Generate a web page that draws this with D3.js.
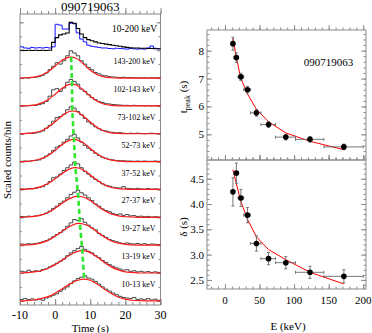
<!DOCTYPE html>
<html>
<head>
<meta charset="utf-8">
<script src="https://cdn.jsdelivr.net/npm/d3@7"></script>
<style>
body { margin: 0; background: #fff; }
text { font-family: "Liberation Serif", "Times New Roman", serif; fill: #000; }
</style>
</head>
<body>
<svg></svg>
<script>
const svg = d3.select('svg')
    .attr('width', 372)
    .attr('height', 333);

// ---- data ----
const burst = '090719063';
// energy bands (keV), low to high
const bandLo = [10, 13, 19, 27, 37, 52, 73, 102, 143];
const bandHi = [13, 19, 27, 37, 52, 73, 102, 143, 200];
const bandE = [11.5, 16.5, 23, 32.5, 45.5, 63, 88, 123, 172];
// peak time and width per band
const tPeak = [8.25, 7.75, 7.06, 6.6, 5.77, 5.35, 4.9, 4.82, 4.55];
const tPeakErr = [0.23, 0.17, 0.13, 0.12, 0.12, 0.1, 0.1, 0.1, 0.1];
const tPeakFit = [8.45, 7.75, 7.0, 6.45, 5.9, 5.45, 5.05, 4.75, 4.45];
const delta = [4.24, 4.61, 4.12, 3.78, 3.22, 2.92, 2.84, 2.65, 2.57];
const deltaErr = [0.28, 0.2, 0.17, 0.15, 0.15, 0.12, 0.12, 0.12, 0.13];
const deltaFit = [4.68, 4.4, 4.05, 3.7, 3.35, 3.1, 2.9, 2.65, 2.42];

// light curves, 1 s bins starting at -10 s
const binStart = -10, binWidth = 1;
const totalBlack = [0, -0.01, 0, -0.01, 0, -0.01, 0, -0.01, 0, 0.28,
    0.45, 0.55, 0.58, 0.62, 1.0, 0.97, 0.78, 0.58, 0.45, 0.38,
    0.34, 0.3, 0.26, 0.24, 0.22, 0.2, 0.18, 0.16, 0.14, 0.12,
    0.1, 0.09, 0.08, 0.08, 0.07, 0.07, 0.06, 0.06, 0.05, 0.05];
const totalBlue = [0.12, 0.08, 0.07, 0.1, 0.08, 0.09, 0.08, 0.1, 0.08, 0.12,
    0.93, 0.9, 0.76, 0.76, 0.97, 0.95, 0.62, 0.4, 0.3, 0.18,
    0.14, 0.12, 0.1, 0.08, 0.08, 0.06, 0.05, 0.07, 0.06, 0.05,
    0.04, 0.06, 0.05, 0.04, 0.05, 0.04, 0.08, 0.15, 0.07, 0.05];
// band light curves, top panel (143-200 keV) to bottom panel (10-13 keV)
const bandCounts = [
    [0, 0.01, 0, 0.02, 0.03, 0.05, 0.1, 0.18, 0.3, 0.42,
     0.55, 0.5, 0.62, 0.8, 0.98, 0.9, 0.8, 0.62, 0.5, 0.38,
     0.3, 0.2, 0.15, 0.1, 0.08, 0.05, 0.04, 0.03, 0.02, 0.03,
     0.01, 0.02, 0.01, 0.01, 0, 0.01, 0, 0.01, 0, 0.01],
    [0.01, 0, 0.01, 0.02, 0.02, 0.05, 0.08, 0.16, 0.35, 0.58,
     0.62, 0.52, 0.64, 0.85, 0.95, 0.88, 0.78, 0.6, 0.52, 0.4,
     0.3, 0.22, 0.16, 0.12, 0.08, 0.07, 0.05, 0.04, 0.03, 0.02,
     0.02, 0.01, 0.02, 0.01, 0.01, 0, 0.01, 0, 0.01, 0],
    [0, 0.01, 0.02, 0.01, 0.03, 0.06, 0.1, 0.2, 0.3, 0.45,
     0.58, 0.62, 0.7, 0.86, 0.97, 0.92, 0.8, 0.68, 0.55, 0.42,
     0.35, 0.25, 0.18, 0.12, 0.1, 0.06, 0.05, 0.03, 0.04, 0.02,
     0.01, 0.02, 0.01, 0.02, 0.01, 0, 0.01, 0.02, 0.01, 0.01],
    [0.01, 0.02, 0.01, 0.03, 0.04, 0.06, 0.12, 0.2, 0.28, 0.4,
     0.52, 0.58, 0.7, 0.8, 0.92, 0.98, 0.85, 0.7, 0.58, 0.48,
     0.4, 0.3, 0.22, 0.16, 0.12, 0.08, 0.06, 0.04, 0.03, 0.03,
     0.02, 0.02, 0.01, 0.02, 0.01, 0.02, 0.01, 0.01, 0.02, 0.01],
    [0.02, 0.01, 0.03, 0.02, 0.04, 0.07, 0.1, 0.18, 0.28, 0.42,
     0.45, 0.55, 0.68, 0.78, 0.88, 0.98, 0.92, 0.78, 0.65, 0.55,
     0.45, 0.36, 0.28, 0.2, 0.15, 0.12, 0.08, 0.06, 0.05, 0.1,
     0.04, 0.03, 0.02, 0.04, 0.02, 0.01, 0.03, 0.01, 0.02, 0.01],
    [0.03, 0.02, 0.04, 0.03, 0.05, 0.07, 0.1, 0.15, 0.22, 0.32,
     0.4, 0.5, 0.58, 0.7, 0.82, 0.9, 0.97, 0.88, 0.8, 0.7,
     0.6, 0.48, 0.4, 0.3, 0.24, 0.2, 0.14, 0.1, 0.12, 0.07,
     0.1, 0.05, 0.06, 0.03, 0.04, 0.02, 0.03, 0.01, 0.02, 0.01],
    [0.04, 0.03, 0.05, 0.04, 0.06, 0.08, 0.12, 0.16, 0.22, 0.3,
     0.38, 0.45, 0.55, 0.68, 0.8, 0.92, 0.88, 0.95, 0.82, 0.72,
     0.62, 0.55, 0.42, 0.35, 0.28, 0.2, 0.16, 0.12, 0.08, 0.06,
     0.08, 0.05, 0.04, 0.06, 0.03, 0.05, 0.02, 0.04, 0.03, 0.02],
    [0.06, 0.04, 0.1, 0.05, 0.08, 0.06, 0.12, 0.15, 0.22, 0.28,
     0.35, 0.42, 0.5, 0.62, 0.72, 0.8, 0.88, 0.95, 0.85, 0.78,
     0.72, 0.62, 0.55, 0.45, 0.38, 0.3, 0.24, 0.18, 0.14, 0.1,
     0.12, 0.06, 0.08, 0.04, 0.06, 0.03, 0.05, 0.02, 0.04, 0.02],
    [0.05, 0.08, 0.04, 0.07, 0.03, 0.06, 0.02, 0.1, 0.14, 0.2,
     0.25, 0.34, 0.42, 0.5, 0.62, 0.72, 0.8, 0.85, 0.9, 0.82,
     0.78, 0.7, 0.6, 0.5, 0.42, 0.35, 0.28, 0.22, 0.16, 0.12,
     0.1, 0.08, 0.12, 0.05, 0.07, 0.04, 0.08, 0.03, 0.06, 0.02]
];
// fitted pulse per band, sampled every 2 s from -10 s to 30 s (same order)
const modelT = d3.range(-10, 31, 2);
const bandModel = [
    [0, 0.01, 0.03, 0.1, 0.23, 0.43, 0.64, 0.75, 0.71, 0.51, 0.28, 0.12, 0.04, 0.01, 0, 0, 0, 0, 0, 0, 0],
    [0, 0.01, 0.03, 0.1, 0.22, 0.42, 0.63, 0.77, 0.75, 0.57, 0.35, 0.17, 0.06, 0.02, 0, 0, 0, 0, 0, 0, 0],
    [0, 0.01, 0.04, 0.1, 0.23, 0.43, 0.65, 0.8, 0.8, 0.64, 0.42, 0.22, 0.09, 0.03, 0.01, 0, 0, 0, 0, 0, 0],
    [0, 0.01, 0.04, 0.1, 0.22, 0.4, 0.61, 0.76, 0.79, 0.68, 0.47, 0.27, 0.13, 0.05, 0.02, 0, 0, 0, 0, 0, 0],
    [0, 0.01, 0.04, 0.1, 0.21, 0.38, 0.57, 0.73, 0.78, 0.7, 0.52, 0.33, 0.17, 0.07, 0.03, 0.01, 0, 0, 0, 0, 0],
    [0, 0.01, 0.03, 0.08, 0.17, 0.32, 0.5, 0.66, 0.75, 0.73, 0.6, 0.41, 0.24, 0.12, 0.05, 0.02, 0.01, 0, 0, 0, 0],
    [0, 0.01, 0.03, 0.08, 0.17, 0.32, 0.49, 0.66, 0.77, 0.76, 0.65, 0.47, 0.29, 0.15, 0.07, 0.03, 0.01, 0, 0, 0, 0],
    [0, 0.01, 0.04, 0.08, 0.17, 0.3, 0.46, 0.63, 0.76, 0.8, 0.73, 0.57, 0.38, 0.22, 0.11, 0.04, 0.02, 0, 0, 0, 0],
    [0, 0.01, 0.03, 0.08, 0.15, 0.27, 0.43, 0.59, 0.72, 0.78, 0.74, 0.6, 0.42, 0.26, 0.13, 0.06, 0.02, 0.01, 0, 0, 0]
];

const frameColor = '#8a8a8a';

// draws inward ticks without labels
function ticks(axis, scale, values, size, tx, ty) {
    svg.append('g')
        .attr('transform', `translate(${tx},${ty})`)
        .call(axis(scale).tickValues(values).tickSize(-size).tickFormat(''))
        .call(g => g.select('.domain').remove())
        .call(g => g.selectAll('line').attr('stroke', frameColor));
}

// ---------- left: stacked light curves ----------
const x = d3.scaleLinear([-10, 30], [20, 160.5]);
const y = d3.scaleLinear([-0.15, 10.3], [305, 14]);
const nBands = bandCounts.length;

svg.append('rect')
    .attr('x', x(-10)).attr('y', y(10.3))
    .attr('width', x(30) - x(-10)).attr('height', y(-0.15) - y(10.3))
    .attr('fill', 'none').attr('stroke', frameColor);

[[d3.range(-10, 31, 2), 3], [d3.range(-10, 31, 10), 6]].forEach(([vals, s]) => {
    ticks(d3.axisBottom, x, vals, s, 0, y(-0.15));
    ticks(d3.axisTop, x, vals, -s, 0, y(10.3));
});
[[d3.range(0, 10.5, 0.5), 2], [d3.range(0, 11, 1), 4]].forEach(([vals, s]) => {
    ticks(d3.axisLeft, y, vals, s, x(-10), 0);
    ticks(d3.axisRight, y, vals, s, x(30), 0);
});

const stepLine = (offset) => d3.line()
    .x(d => x(d[0]))
    .y(d => y(d[1] + offset))
    .curve(d3.curveStepAfter);

const binned = (vals) => {
    const pts = vals.map((v, i) => [binStart + i * binWidth, v]);
    pts.push([binStart + vals.length * binWidth, vals[vals.length - 1]]);
    return pts;
};

// top panel: total 10-200 keV
const topOffset = nBands;
svg.append('path').datum(binned(totalBlue))
    .attr('d', stepLine(topOffset))
    .attr('fill', 'none').attr('stroke', '#1010ff').attr('stroke-width', 1);
svg.append('path').datum(binned(totalBlack))
    .attr('d', stepLine(topOffset))
    .attr('fill', 'none').attr('stroke', '#000').attr('stroke-width', 1.1);
svg.append('text')
    .attr('x', 157).attr('y', y(topOffset + 0.66))
    .attr('text-anchor', 'end').attr('font-size', 9.5)
    .text(`${bandLo[0]}-${bandHi[bandHi.length - 1]} keV`);

const modelLine = (offset) => d3.line()
    .x((d, i) => x(modelT[i]))
    .y(d => y(d + offset))
    .curve(d3.curveCatmullRom.alpha(0.5));

const peakPts = [];
bandCounts.forEach((counts, p) => {
    const offset = nBands - 1 - p;
    const b = nBands - 1 - p; // index into ascending band arrays
    svg.append('path').datum(binned(counts))
        .attr('d', stepLine(offset))
        .attr('fill', 'none').attr('stroke', '#333').attr('stroke-width', 0.9);
    svg.append('path').datum(bandModel[p])
        .attr('d', modelLine(offset))
        .attr('fill', 'none').attr('stroke', '#ff1a1a').attr('stroke-width', 1.2);
    svg.append('text')
        .attr('x', 155.5).attr('y', y(offset + 0.5))
        .attr('text-anchor', 'end').attr('font-size', 8)
        .text(`${bandLo[b]}-${bandHi[b]} keV`);
    peakPts.push([tPeak[b], offset + d3.max(bandModel[p])]);
});

svg.append('path').datum(peakPts)
    .attr('d', d3.line().x(d => x(d[0])).y(d => y(d[1])))
    .attr('fill', 'none').attr('stroke', '#2ee82e')
    .attr('stroke-width', 2.6).attr('stroke-dasharray', '5,3');

svg.append('g').selectAll('text').data(d3.range(-10, 31, 10)).join('text')
    .attr('x', d => x(d)).attr('y', 319)
    .attr('text-anchor', 'middle').attr('font-size', 12)
    .text(d => String(d));
svg.append('text').attr('x', x(10)).attr('y', 332)
    .attr('text-anchor', 'middle').attr('font-size', 11).text('Time (s)');
svg.append('text').attr('transform', 'translate(10.5,160) rotate(-90)')
    .attr('text-anchor', 'middle').attr('font-size', 11).text('Scaled counts/bin');
svg.append('text').attr('x', x(10)).attr('y', 11)
    .attr('text-anchor', 'middle').attr('font-size', 13).text(burst);

// ---------- right: t_peak and delta vs energy ----------
const xe = d3.scaleLinear([-26, 204], [207, 366]);
const yt = d3.scaleLinear([4.08, 8.74], [160, 30]);
const yd = d3.scaleLinear([2.32, 4.87], [289, 160]);

function panel(ys, vals, errs, fit, minorStep, majorStep, labels) {
    const [r0, r1] = ys.range();
    const [d0, d1] = ys.domain();
    svg.append('rect')
        .attr('x', 207).attr('y', r1).attr('width', 366 - 207).attr('height', r0 - r1)
        .attr('fill', 'none').attr('stroke', frameColor);
    [[d3.range(-20, 205, 10), 2.5], [d3.range(0, 205, 50), 5]].forEach(([v, s]) => {
        ticks(d3.axisBottom, xe, v, s, 0, r0);
        ticks(d3.axisTop, xe, v, -s, 0, r1);
    });
    const minor = d3.range(Math.ceil(d0 / minorStep) * minorStep, d1, minorStep);
    const major = labels;
    [[minor, 2.5], [major, 5]].forEach(([v, s]) => {
        ticks(d3.axisLeft, ys, v, s, 207, 0);
        ticks(d3.axisRight, ys, v, s, 366, 0);
    });
    svg.append('g').selectAll('text').data(labels).join('text')
        .attr('x', 204).attr('y', d => ys(d)).attr('dy', '0.36em')
        .attr('text-anchor', 'end').attr('font-size', 11)
        .text(d => majorStep < 1 ? d.toFixed(1) : String(d));

    svg.append('path').datum(fit)
        .attr('d', d3.line().x((d, i) => xe(bandE[i])).y(d => ys(d)))
        .attr('fill', 'none').attr('stroke', '#ff0000').attr('stroke-width', 1);

    const g = svg.append('g').attr('stroke', '#6a6a6a').attr('stroke-width', 0.9);
    vals.forEach((v, i) => {
        const cx = xe(bandE[i]), cy = ys(v);
        const xl = xe(bandLo[i]), xr = xe(bandHi[i]);
        const yl = ys(v - errs[i]), yh = ys(v + errs[i]);
        g.append('line').attr('x1', xl).attr('x2', xr).attr('y1', cy).attr('y2', cy);
        g.append('line').attr('x1', xl).attr('x2', xl).attr('y1', cy - 1.5).attr('y2', cy + 1.5);
        g.append('line').attr('x1', xr).attr('x2', xr).attr('y1', cy - 1.5).attr('y2', cy + 1.5);
        g.append('line').attr('x1', cx).attr('x2', cx).attr('y1', yl).attr('y2', yh);
        g.append('line').attr('x1', cx - 1.5).attr('x2', cx + 1.5).attr('y1', yl).attr('y2', yl);
        g.append('line').attr('x1', cx - 1.5).attr('x2', cx + 1.5).attr('y1', yh).attr('y2', yh);
    });
    svg.append('g').selectAll('circle').data(vals).join('circle')
        .attr('cx', (d, i) => xe(bandE[i])).attr('cy', d => ys(d))
        .attr('r', 2.8).attr('fill', '#000');
}

panel(yt, tPeak, tPeakErr, tPeakFit, 0.2, 1, [5, 6, 7, 8]);
panel(yd, delta, deltaErr, deltaFit, 0.1, 0.5, [2.5, 3.0, 3.5, 4.0, 4.5]);

svg.append('text').attr('x', 328.5).attr('y', 66)
    .attr('text-anchor', 'middle').attr('font-size', 11).text(burst);

svg.append('g').selectAll('text').data([0, 50, 100, 150, 200]).join('text')
    .attr('x', d => xe(d)).attr('y', 303.5)
    .attr('text-anchor', 'middle').attr('font-size', 11)
    .text(d => String(d));
svg.append('text').attr('x', 288).attr('y', 330)
    .attr('text-anchor', 'middle').attr('font-size', 11).text('E (keV)');

const tLabel = svg.append('text').attr('transform', 'translate(187,97) rotate(-90)')
    .attr('text-anchor', 'middle').attr('font-size', 11);
tLabel.append('tspan').text('t');
tLabel.append('tspan').attr('font-size', 8).attr('dy', 2.5).text('peak');
tLabel.append('tspan').attr('dy', -2.5).text(' (s)');
svg.append('text').attr('transform', 'translate(187,227) rotate(-90)')
    .attr('text-anchor', 'middle').attr('font-size', 11).text('δ (s)');
</script>
</body>
</html>
